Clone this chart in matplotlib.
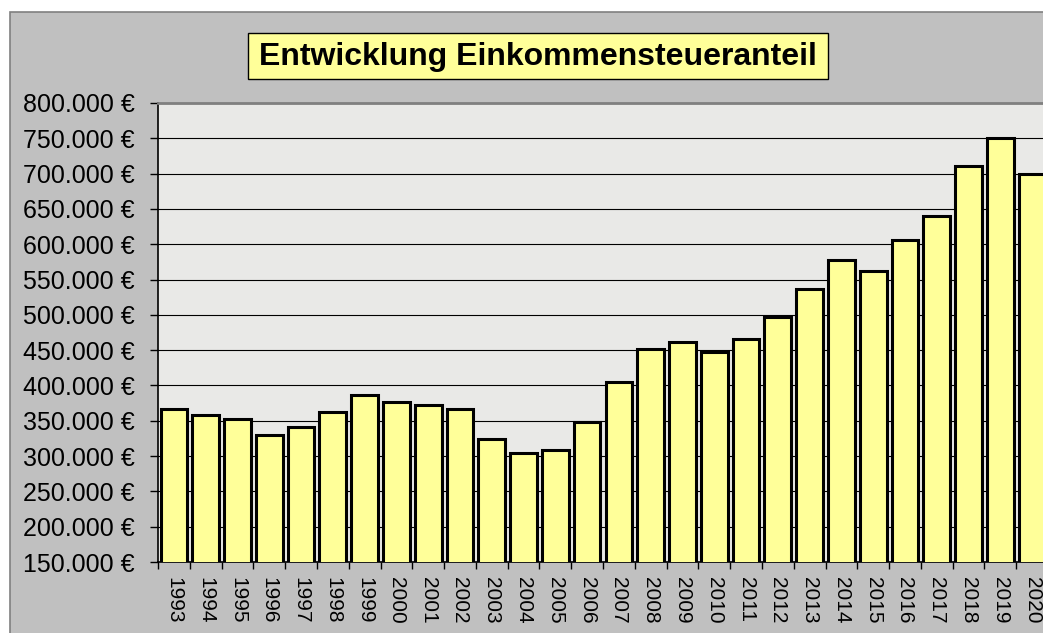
import matplotlib
matplotlib.use("Agg")
import matplotlib.pyplot as plt
from matplotlib.patches import Rectangle
from matplotlib.ticker import FixedLocator, FuncFormatter
import numpy as np

years = [str(y) for y in range(1993, 2021)]
values = [367000, 358000, 353000, 330500, 341500, 363000, 387000, 377000,
          372000, 366500, 323500, 304500, 309000, 348000, 405000, 451000,
          461000, 447000, 466000, 497000, 536500, 578000, 562000, 605500,
          640000, 711000, 751000, 700000]
y_ticks = list(range(150000, 800001, 50000))
title = "Entwicklung Einkommensteueranteil"

plt.rcParams['font.family'] = ['Liberation Sans', 'DejaVu Sans']

W, H = 1043, 633
fig = plt.figure(figsize=(W / 100, H / 100), dpi=100, facecolor='white')

# gray chart panel
panel = Rectangle((10 / W, -0.05), 1.1, 1 - 12 / H + 0.05, transform=fig.transFigure,
                  facecolor='#c0c0c0', edgecolor='#808080', linewidth=1.2, zorder=-10)
fig.patches.append(panel)

# title box
tb = Rectangle((248 / W, 1 - 79 / H), (828 - 248) / W, (79 - 33) / H, transform=fig.transFigure,
               facecolor='#ffff99', edgecolor='black', linewidth=1, zorder=-5)
fig.patches.append(tb)

left, right, top, bottom = 158, 1048, 103, 562
ax = fig.add_axes([left / W, 1 - bottom / H, (right - left) / W, (bottom - top) / H])
ax.set_zorder(1)
ax.set_facecolor('#e9e9e7')

x = np.arange(len(years))
ax.bar(x, values, width=0.84, color='#ffff99', edgecolor='black', linewidth=2.2, zorder=3)

ax.set_xlim(-0.5, len(years) - 0.5)
ax.set_ylim(150000, 800000)

ax.yaxis.set_major_locator(FixedLocator(y_ticks))
ax.yaxis.set_major_formatter(FuncFormatter(lambda v, p: f"{int(v):,}".replace(',', '.') + " €"))
ax.grid(axis='y', color='black', linewidth=0.8, zorder=1)
ax.set_axisbelow(True)

ax.set_xticks(x)
ax.set_xticklabels(years, rotation=270, fontsize=15)
ax.set_xticks(np.arange(-0.5, len(years), 1), minor=True)
ax.tick_params(axis='x', which='major', length=0, pad=11)
ax.tick_params(axis='x', which='minor', length=5, width=1, color='black', direction='out')
ax.tick_params(axis='y', which='major', length=6, width=1, pad=11, labelsize=18)

for s in ['top', 'right']:
    ax.spines[s].set_color('#808080')
    ax.spines[s].set_linewidth(2)
ax.spines['left'].set_color('black')
ax.spines['left'].set_linewidth(1.2)
ax.spines['bottom'].set_color('black')
ax.spines['bottom'].set_linewidth(1.2)

fig.text(538 / W, 1 - 57 / H, title, ha='center', va='center', fontsize=23,
         fontweight='bold', zorder=5)

fig.savefig('out.png', dpi=100, facecolor='white')
